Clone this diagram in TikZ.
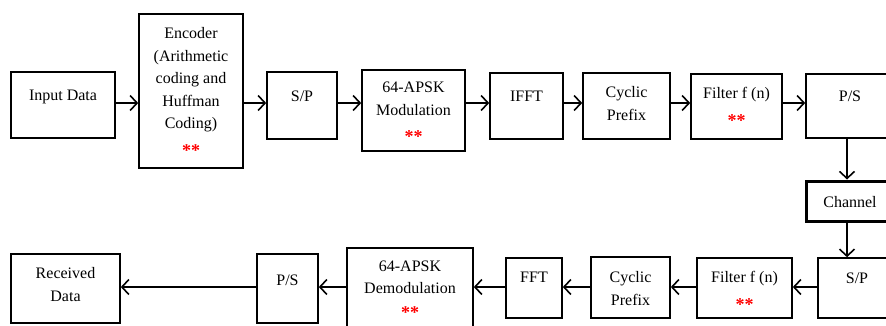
\documentclass[tikz,border=0pt]{standalone}
\usepackage{fontspec}
\setmainfont{Liberation Serif}
\usetikzlibrary{arrows.meta,fit}
\newcommand\redstars[1][5pt]{\\[#1]\textcolor{red}{\fontsize{18}{22.5}\selectfont\textbf{**}}}
\tikzset{
  box/.style={draw, line width=1.6pt, inner sep=0pt},
  lbl/.style={font=\fontsize{16}{22.5}\selectfont, align=center, anchor=north, inner sep=0pt},
  arr/.style={-{Straight Barb[length=7pt,width=15pt]}, line width=1.6pt},
}
\begin{document}
\begin{tikzpicture}[x=1pt,y=-1pt]
\useasboundingbox (0,0) rectangle (886,325);
\clip (0,0) rectangle (886,325);
% row coordinates
\coordinate (rowA) at (0,103);
\coordinate (rowB) at (0,287);
\coordinate (colC) at (847,0);
% top row boxes
\node[box, fit={(11,72) (115,138)}] (in) {};
\node[box, fit={(139,14) (243,168)}] (enc) {};
\node[box, fit={(267,72) (337,139)}] (sp1) {};
\node[box, fit={(362,70) (465,151)}] (mod) {};
\node[box, fit={(490,73) (563,139)}] (ifft) {};
\node[box, fit={(583,73) (670,139)}] (cp1) {};
\node[box, fit={(691,74) (782,139)}] (fil1) {};
\node[box, fit={(806,74) (894,138)}] (ps1) {};
\node[box, line width=3pt, fit={(806,181) (894,221)}] (chan) {};
% bottom row boxes
\node[box, fit={(818,258) (896,318)}] (sp2) {};
\node[box, fit={(697,258) (792,318)}] (fil2) {};
\node[box, fit={(591,257) (670,318)}] (cp2) {};
\node[box, fit={(506,258) (562,318)}] (fft) {};
\node[box, fit={(347,248) (473,345)}] (dem) {};
\node[box, fit={(257,254) (318,323)}] (ps2) {};
\node[box, fit={(11,254) (120,323)}] (rec) {};
% labels
\node[lbl] (t-in) at ([yshift=-19pt]in.north) {Input Data};
\node[lbl] (t-enc) at ([yshift=-14pt]enc.north) {Encoder\\(Arithmetic\\coding and\\Huffman\\Coding)\redstars};
\node[lbl] (t-sp1) at ([yshift=-20pt]sp1.north) {S/P};
\node[lbl] (t-mod) at ([yshift=-13pt]mod.north) {64-APSK\\Modulation\redstars};
\node[lbl] (t-ifft) at ([yshift=-19pt]ifft.north) {IFFT};
\node[lbl] (t-cp1) at ([yshift=-14pt]cp1.north) {Cyclic\\Prefix};
\node[lbl] (t-fil1) at ([yshift=-14pt]fil1.north) {Filter f (n)\redstars};
\node[lbl] (t-ps1) at ([yshift=-18pt]ps1.north) {P/S};
\node[lbl, anchor=center] (t-chan) at ([yshift=-1pt]chan.center) {Channel};
\node[lbl] (t-sp2) at ([yshift=-15pt]sp2.north) {S/P};
\node[lbl] (t-fil2) at ([yshift=-14pt]fil2.north) {Filter f (n)\redstars};
\node[lbl] (t-cp2) at ([yshift=-15pt]cp2.north) {Cyclic\\Prefix};
\node[lbl] (t-fft) at ([yshift=-15pt]fft.north) {FFT};
\node[lbl] (t-dem) at ([yshift=-13pt]dem.north) {64-APSK\\Demodulation\redstars[2pt]};
\node[lbl] (t-ps2) at ([yshift=-21pt]ps2.north) {P/S};
\node[lbl] (t-rec) at ([yshift=-14pt]rec.north) {Received\\Data};
% top row arrows
\draw[arr] (in.east |- rowA) -- (enc.west |- rowA);
\draw[arr] (enc.east |- rowA) -- (sp1.west |- rowA);
\draw[arr] (sp1.east |- rowA) -- (mod.west |- rowA);
\draw[arr] (mod.east |- rowA) -- (ifft.west |- rowA);
\draw[arr] (ifft.east |- rowA) -- (cp1.west |- rowA);
\draw[arr] (cp1.east |- rowA) -- (fil1.west |- rowA);
\draw[arr] (fil1.east |- rowA) -- (ps1.west |- rowA);
% vertical
\draw[arr] (colC |- ps1.south) -- (colC |- chan.north);
\draw[arr] (colC |- chan.south) -- (colC |- sp2.north);
% bottom row arrows
\draw[arr] (sp2.west |- rowB) -- (fil2.east |- rowB);
\draw[arr] (fil2.west |- rowB) -- (cp2.east |- rowB);
\draw[arr] (cp2.west |- rowB) -- (fft.east |- rowB);
\draw[arr] (fft.west |- rowB) -- (dem.east |- rowB);
\draw[arr] (dem.west |- rowB) -- (ps2.east |- rowB);
\draw[arr] (ps2.west |- rowB) -- (rec.east |- rowB);
\end{tikzpicture}
\end{document}
